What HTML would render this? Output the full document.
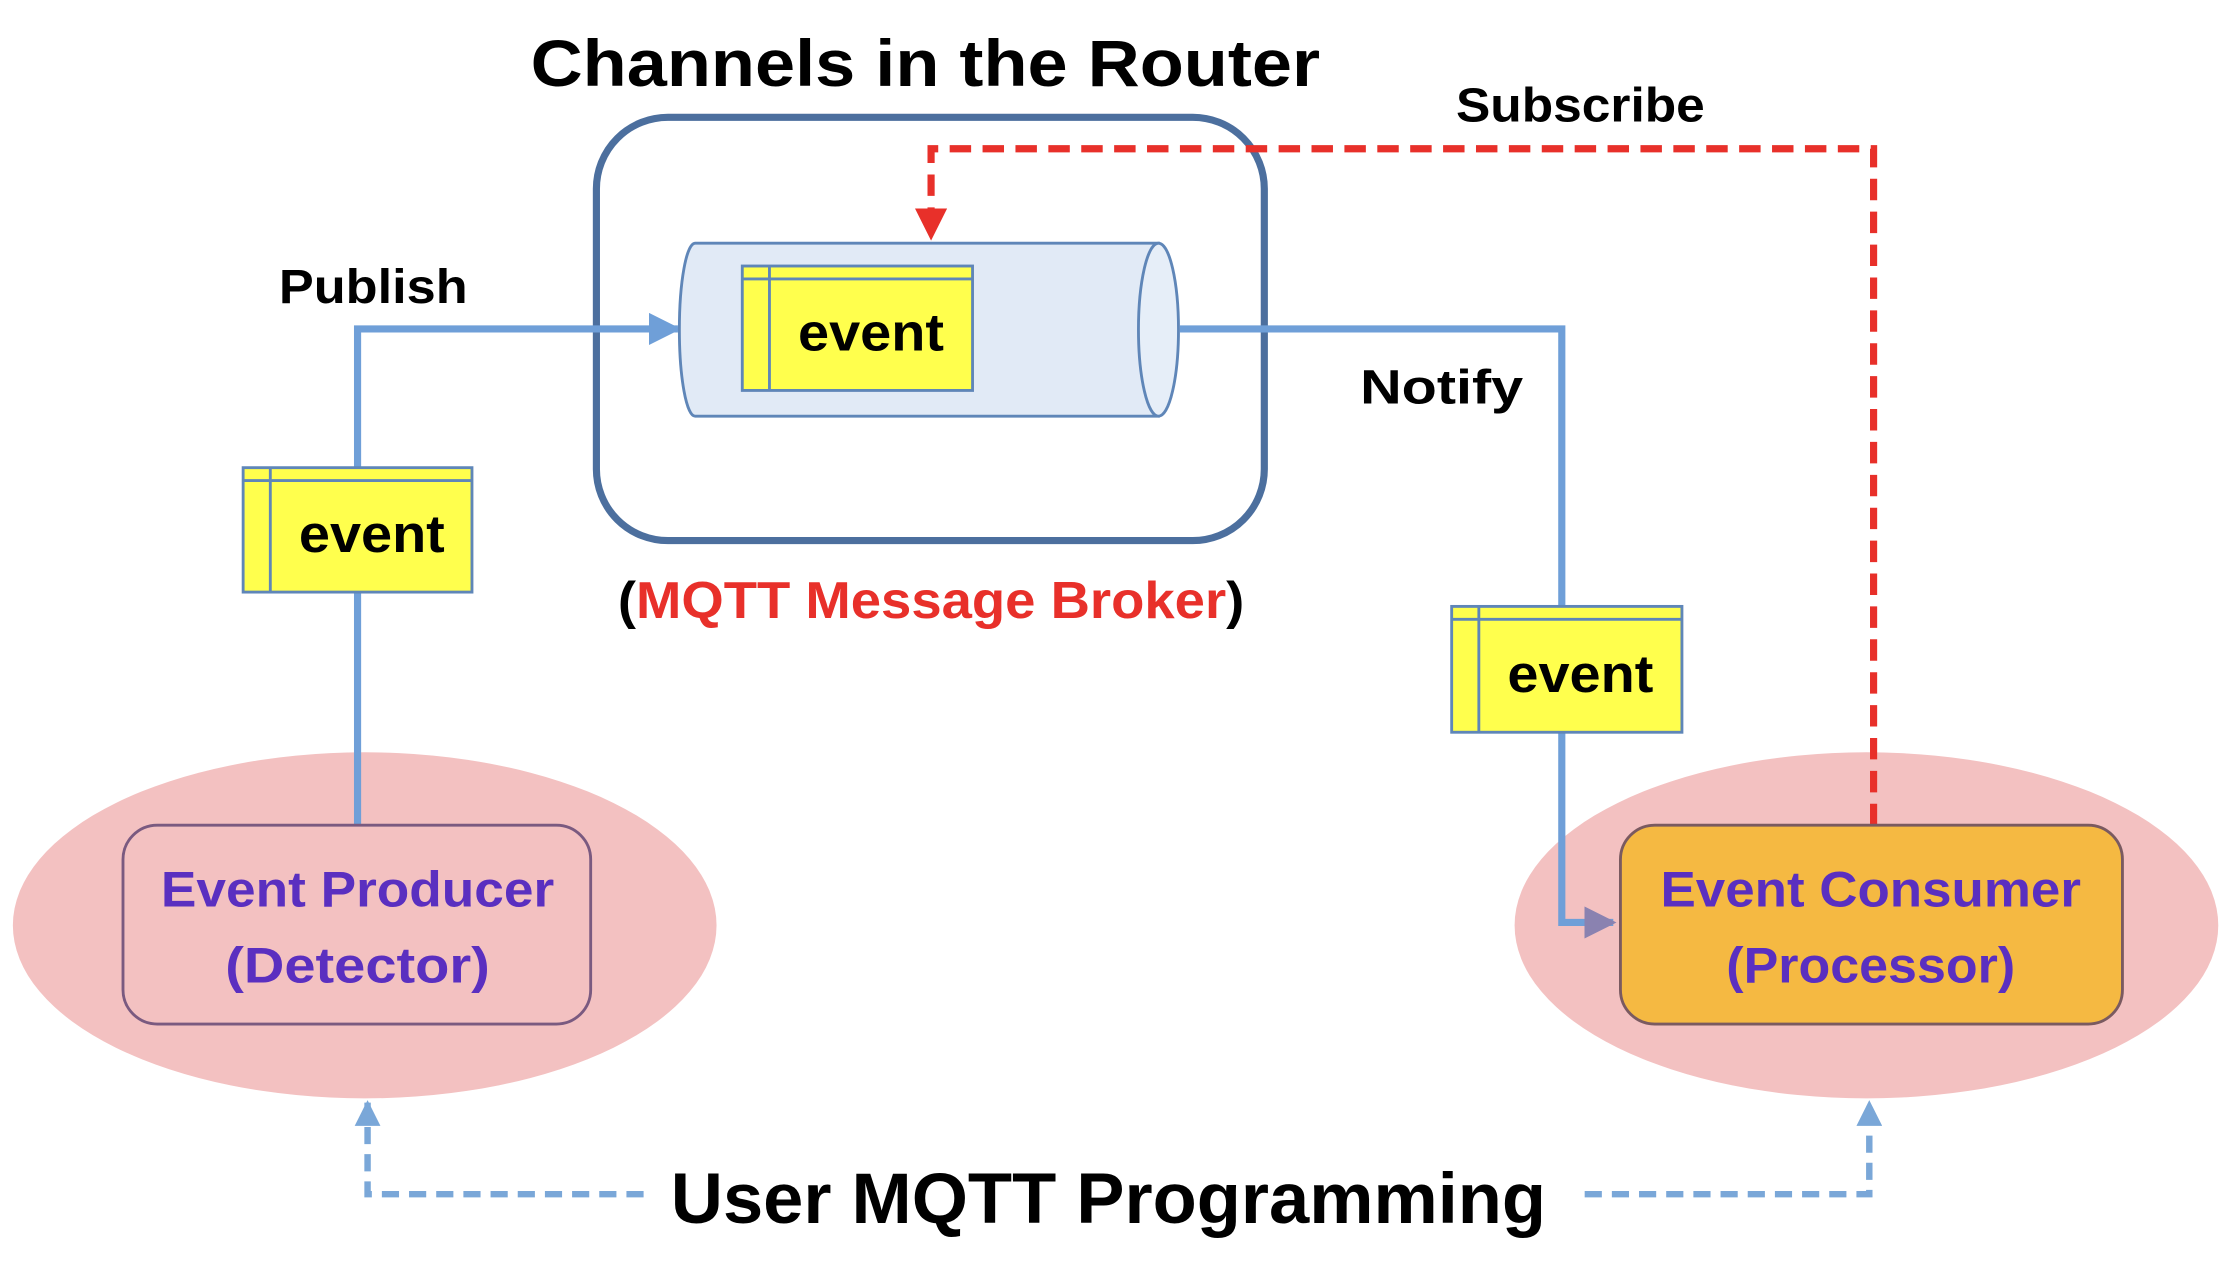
<!DOCTYPE html>
<html><head><meta charset="utf-8"><style>
html,body{margin:0;padding:0;background:#fff;width:2234px;height:1262px;overflow:hidden}
svg{display:block}
text{font-family:"Liberation Sans",sans-serif;font-weight:bold}
</style></head><body>
<svg width="2234" height="1262" viewBox="0 0 1562 882.4" preserveAspectRatio="none">
<defs>
<marker id="ab" viewBox="0 0 10 10" refX="9" refY="5" markerWidth="4.5" markerHeight="4.5" orient="auto"><path d="M0,0L10,5L0,10z" fill="#6f9fd8"/></marker>
<marker id="ap" viewBox="0 0 10 10" refX="9" refY="5" markerWidth="4.5" markerHeight="4.5" orient="auto"><path d="M0,0L10,5L0,10z" fill="#8a82b0"/></marker>
<marker id="ar" viewBox="0 0 10 10" refX="9" refY="5" markerWidth="4.5" markerHeight="4.5" orient="auto"><path d="M0,0L10,5L0,10z" fill="#e8302a"/></marker>
<marker id="ad" viewBox="0 0 10 10" refX="9" refY="5" markerWidth="4" markerHeight="4" orient="auto"><path d="M0,0L10,5L0,10z" fill="#7aa7d8"/></marker>
</defs>

<ellipse cx="255" cy="647" rx="246" ry="121" fill="#f3c1c1"/>
<ellipse cx="1305" cy="647" rx="246" ry="121" fill="#f3c1c1"/>

<text x="647" y="60" font-size="46" text-anchor="middle" textLength="552" lengthAdjust="spacingAndGlyphs">Channels in the Router</text>

<rect x="417" y="82" width="467" height="296" rx="50" fill="none" stroke="#4c6f9e" stroke-width="5"/>

<polyline points="250,577 250,230 474,230" fill="none" stroke="#6f9fd8" stroke-width="5" marker-end="url(#ab)"/>
<text x="195" y="212" font-size="34" textLength="132" lengthAdjust="spacingAndGlyphs">Publish</text>

<path d="M486,170 L810,170 L810,291 L486,291 A11,60.5 0 0 1 486,170 Z" fill="#e1eaf6" stroke="#5f86b8" stroke-width="2"/>
<ellipse cx="810" cy="230.5" rx="14" ry="60.5" fill="#e6eef8" stroke="#5f86b8" stroke-width="2"/>

<polyline points="825,230 1092,230 1092,645 1128,645" fill="none" stroke="#6f9fd8" stroke-width="5" marker-end="url(#ap)"/>
<text x="951" y="282" font-size="34" textLength="114" lengthAdjust="spacingAndGlyphs">Notify</text>

<polyline points="1310,577 1310,104 651,104 651,166" fill="none" stroke="#e8302a" stroke-width="5" stroke-dasharray="15,8" marker-end="url(#ar)"/>
<text x="1018" y="85" font-size="34" textLength="174" lengthAdjust="spacingAndGlyphs">Subscribe</text>

<g stroke="#5f86b8" stroke-width="2" fill="#ffff4d">
<rect x="519" y="186" width="161" height="87"/><line x1="538" y1="186" x2="538" y2="273"/><line x1="519" y1="195" x2="680" y2="195"/>
<rect x="170" y="327" width="160" height="87"/><line x1="189" y1="327" x2="189" y2="414"/><line x1="170" y1="336" x2="330" y2="336"/>
<rect x="1015" y="424" width="161" height="88"/><line x1="1034" y1="424" x2="1034" y2="512"/><line x1="1015" y1="433" x2="1176" y2="433"/>
</g>
<text x="609" y="245" font-size="37" text-anchor="middle" textLength="102" lengthAdjust="spacingAndGlyphs">event</text>
<text x="260" y="386" font-size="37" text-anchor="middle" textLength="102" lengthAdjust="spacingAndGlyphs">event</text>
<text x="1105" y="484" font-size="37" text-anchor="middle" textLength="102" lengthAdjust="spacingAndGlyphs">event</text>

<text x="651" y="432" font-size="36" text-anchor="middle" textLength="438" lengthAdjust="spacingAndGlyphs">(<tspan fill="#e8302a">MQTT Message Broker</tspan>)</text>

<rect x="86" y="577" width="327" height="139" rx="24" fill="#f3c1c1" stroke="#7a5a80" stroke-width="2"/>
<text x="250" y="634" font-size="35" fill="#5a2fc0" text-anchor="middle" textLength="275" lengthAdjust="spacingAndGlyphs">Event Producer</text>
<text x="250" y="687" font-size="35" fill="#5a2fc0" text-anchor="middle" textLength="185" lengthAdjust="spacingAndGlyphs">(Detector)</text>

<rect x="1133" y="577" width="351" height="139" rx="24" fill="#f5b942" stroke="#7a5a60" stroke-width="2"/>
<text x="1308" y="634" font-size="35" fill="#5a2fc0" text-anchor="middle" textLength="294" lengthAdjust="spacingAndGlyphs">Event Consumer</text>
<text x="1308" y="687" font-size="35" fill="#5a2fc0" text-anchor="middle" textLength="202" lengthAdjust="spacingAndGlyphs">(Processor)</text>

<polyline points="450,835 257,835 257,771" fill="none" stroke="#7aa7d8" stroke-width="4.5" stroke-dasharray="12,7" marker-end="url(#ad)"/>
<polyline points="1108,835 1307,835 1307,771" fill="none" stroke="#7aa7d8" stroke-width="4.5" stroke-dasharray="12,7" marker-end="url(#ad)"/>
<text x="775" y="855" font-size="50" text-anchor="middle" textLength="612" lengthAdjust="spacingAndGlyphs">User MQTT Programming</text>
</svg>
</body></html>
